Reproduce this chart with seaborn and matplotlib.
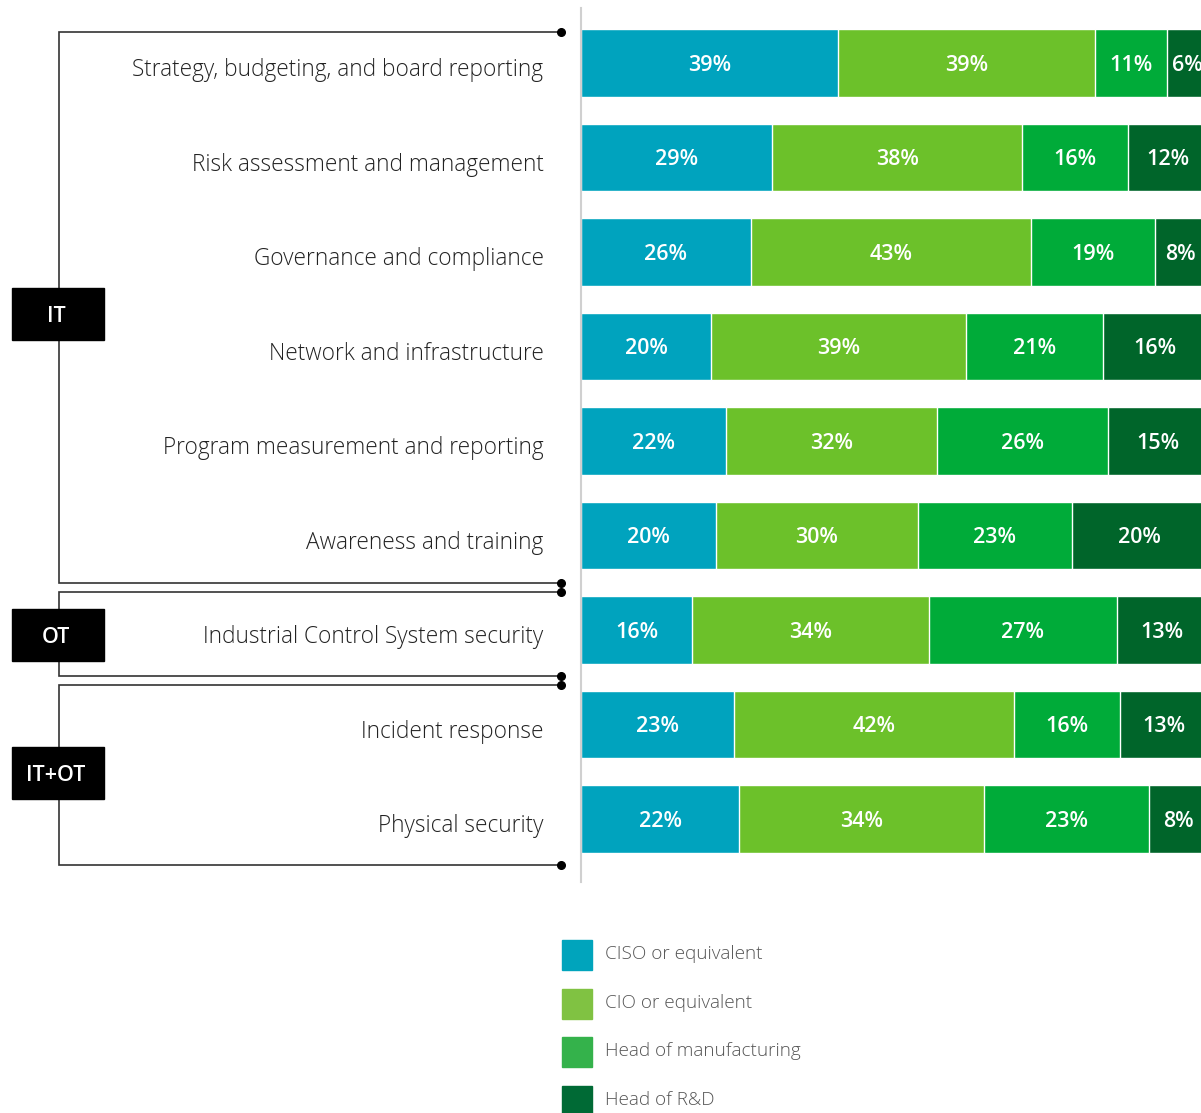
import numpy as np
import pandas as pd
import matplotlib
matplotlib.use("Agg")
import matplotlib.pyplot as plt
import matplotlib.transforms as mtransforms
from matplotlib.patches import Rectangle
import seaborn as sns

# Data (percent of respondents)
categories = [
    "Strategy, budgeting, and board reporting",
    "Risk assessment and management",
    "Governance and compliance",
    "Network and infrastructure",
    "Program measurement and reporting",
    "Awareness and training",
    "Industrial Control System security",
    "Incident response",
    "Physical security",
]
roles = ["CISO or equivalent", "CIO or equivalent", "Head of manufacturing", "Head of R&D"]
ciso = [39, 29, 26, 20, 22, 20, 16, 23, 22]
cio = [39, 38, 43, 39, 32, 30, 34, 42, 34]
manufacturing = [11, 16, 19, 21, 26, 23, 27, 16, 23]
rnd = [6, 12, 8, 16, 15, 20, 13, 13, 8]
groups = ["IT", "OT", "IT+OT"]

bar_colors = ["#00a3be", "#6cc12a", "#00ab39", "#00652a"]
legend_colors = ["#00a4bc", "#80c242", "#34b24b", "#006a35"]

df = pd.DataFrame({"category": categories, roles[0]: ciso, roles[1]: cio,
                   roles[2]: manufacturing, roles[3]: rnd})
# bars are scaled so every row fills the full width
shares = df[roles].div(df[roles].sum(axis=1), axis=0) * 100
cum = shares.cumsum(axis=1)

sns.set_style("white")
plt.rcParams["font.family"] = ["Open Sans", "DejaVu Sans"]

W, H = 1201, 1113
fig = plt.figure(figsize=(W / 100, H / 100), dpi=100)
ax = fig.add_axes([581 / W, (H - 882) / H, 626 / W, 874 / H])

# stacked bars: draw the cumulative totals from the right-most segment back
for i in reversed(range(len(roles))):
    sns.barplot(x=cum[roles[i]], y=df["category"], order=categories, orient="h",
                color=bar_colors[i], saturation=1, width=0.71,
                edgecolor="white", linewidth=1, ax=ax)

# percent labels in the middle of each segment
raw = df[roles].values
for r in range(len(categories)):
    for i in range(len(roles)):
        left = cum.iloc[r, i] - shares.iloc[r, i]
        ax.text(left + shares.iloc[r, i] / 2, r, f"{raw[r, i]}%", ha="center",
                va="center_baseline", color="white", fontsize=15.5, fontweight="semibold")

ax.set_xlim(0, 100)
ax.set_ylim(8.667, -0.582)
ax.set_xlabel("")
ax.set_ylabel("")
ax.set_xticks([])
for s in ["top", "right", "bottom"]:
    ax.spines[s].set_visible(False)
ax.spines["left"].set_color("#d0d0d0")
ax.spines["left"].set_linewidth(1.5)
ax.tick_params(axis="y", length=0, pad=27, labelsize=16.3, labelcolor="#222222")
shift = mtransforms.ScaledTranslation(0, -3 / 72, fig.dpi_scale_trans)
for lab in ax.get_yticklabels():
    lab.set_fontweight("light")
    lab.set_transform(lab.get_transform() + shift)

# group brackets on an overlay in pixel coordinates
ov = fig.add_axes([0, 0, 1, 1], zorder=-1)
ov.set_xlim(0, W)
ov.set_ylim(H, 0)
ov.axis("off")
brackets = [(32, 583, 314), (592, 676, 635), (685, 865, 773)]
for name, (top, bottom, mid) in zip(groups, brackets):
    ov.plot([561, 59, 59, 561], [top, top, bottom, bottom], color="#333333", lw=1.2,
            solid_joinstyle="miter")
    ov.plot([561, 561], [top, bottom], "o", color="black", ms=5.5)
    ov.add_patch(Rectangle((12, mid - 26), 92, 52, color="black", zorder=3))
    ov.text(56, mid, name, color="white", ha="center", va="center_baseline",
            fontsize=15.5, fontweight="semibold", zorder=4)

# legend
for i, role in enumerate(roles):
    top = 940 + i * 48.7
    ov.add_patch(Rectangle((562, top), 30, 30, color=legend_colors[i]))
    ov.text(605, top + 14, role, ha="left", va="center", fontsize=13.6,
            color="#555555", fontweight="light")

fig.savefig("out.png", dpi=100)
